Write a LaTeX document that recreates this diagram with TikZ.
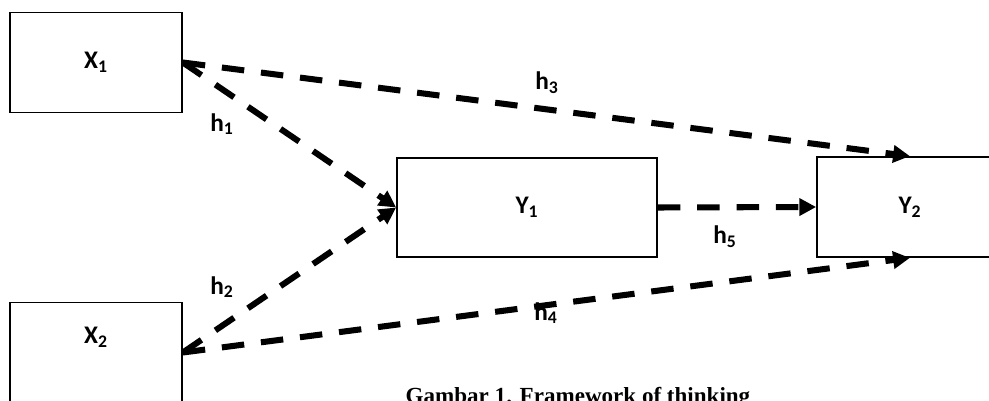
\documentclass[tikz,border=0pt]{standalone}
\usepackage{fontspec}
\usepackage{tikz}
\usetikzlibrary{arrows.meta,positioning}
\setmainfont{Carlito}
\newfontfamily\capfont{Liberation Serif}

\begin{document}
\begin{tikzpicture}[
    block/.style={draw=black, line width=1.2pt, minimum width=4.3cm, minimum height=2.5cm, font=\fontsize{18}{21}\selectfont\bfseries},
    arrow/.style={-{Triangle[length=12pt,width=12pt]}, line width=4.3pt, dash pattern=on 16pt off 12pt},
    lbl/.style={font=\fontsize{18}{21}\selectfont\bfseries}
]
\useasboundingbox (0,0) rectangle (24.725,-10.025);
\node[block] (x1) at (2.4,-1.5625) {X\textsubscript{1}};
\node[block] (x2) at (2.4,-8.8125) {};
\node[lbl] (x2lab) at (2.4,-8.425) {X\textsubscript{2}};
\node[block, minimum width=6.5cm, minimum height=2.475cm] (y1) at (13.175,-5.1875) {Y\textsubscript{1}};
\node[block, minimum width=4.65cm] (y2) at (22.75,-5.175) {Y\textsubscript{2}};
\draw[arrow] (x1.east) -- (y1.west);
\draw[arrow] (x2.east) -- (y1.west);
\draw[arrow] (x1.east) -- (y2.north);
\draw[arrow] (x2.east) -- (y2.south);
\draw[arrow] (y1.east) -- (y2.west);
\node[lbl] (h1) at (5.55,-3.1) {h\textsubscript{1}};
\node[lbl] (h2) at (5.55,-7.175) {h\textsubscript{2}};
\node[lbl] (h3) at (13.675,-2.075) {h\textsubscript{3}};
\node[lbl] (h4) at (13.65,-7.825) {h\textsubscript{4}};
\node[lbl] (h5) at (18.125,-5.925) {h\textsubscript{5}};
\node[anchor=base, font=\capfont\fontsize{16.4}{19}\selectfont\bfseries] (cap) at (14.45,-10.08) {Gambar 1. Framework of thinking};
\end{tikzpicture}
\end{document}
